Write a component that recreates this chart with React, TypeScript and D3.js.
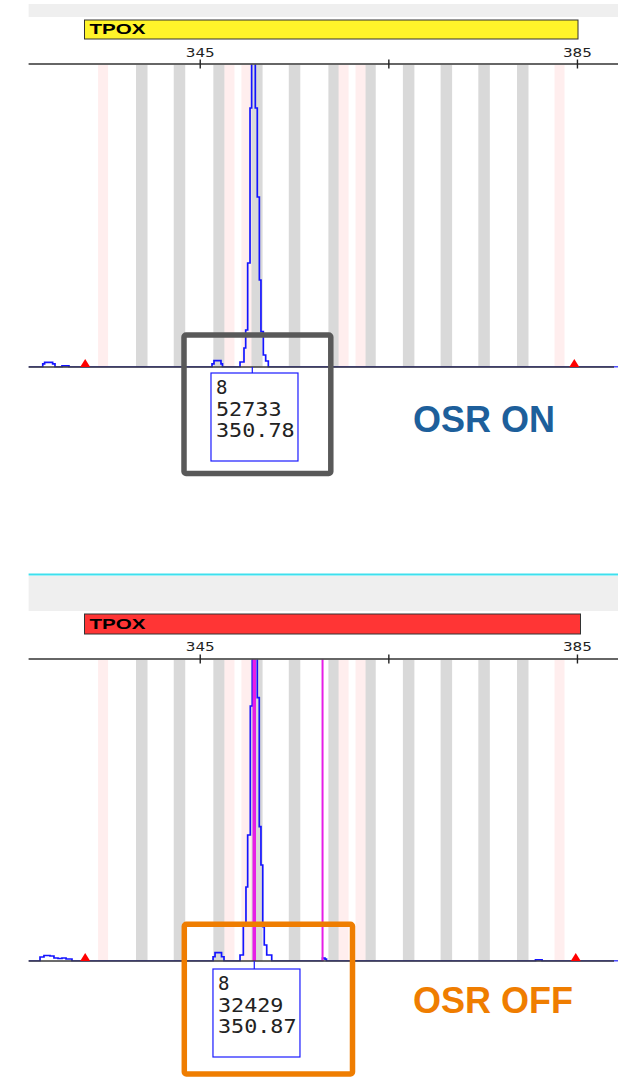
import React from 'react';
import * as d3 from 'd3';

// ---------- data ----------
const locusName = 'TPOX';
const axisTicks = [345, 365, 385];
const tickLabels = ['345', '', '385'];
const alleleBins = [338.8, 342.8, 347.0, 351.0, 355.0, 359.2, 363.0, 367.1, 371.1, 375.1, 379.2];
const virtualBins = [334.7, 348.1, 349.9, 360.2, 362.0, 383.1];

// OSR ON trace samples (bp, RFU)
const onPos = [326.8, 328.1, 328.3, 328.5, 329.35, 329.6, 330.34, 330.98, 331.08,
  346.25, 346.46, 347.2, 347.36,
  348.9, 349.22, 349.64, 349.82, 350.03, 350.28, 350.45, 350.63, 350.84, 351.05, 351.27, 351.44, 351.69, 351.94, 352.22, 389.3];
const onRfu = [0, 0, 100, 155, 100, 0, 40, 40, 0,
  100, 208, 100, 0,
  0, 165, 627, 1221, 3432, 8548, 20000, 52733, 8548, 5611, 2871, 1165, 396, 198, 0, 0];
const onSizeStd = [332.8, 384.67];
const onCall = 350.52;
const onLabel = ['8', '52733', '350.78'];

// OSR OFF trace samples (bp, RFU)
const offPos = [326.8, 327.8, 328.01, 328.43, 329.07, 329.49, 329.92, 330.34, 330.77, 331.19, 331.4,
  346.2, 346.36, 346.57, 346.99, 347.26, 347.52,
  348.9, 349.22, 349.57, 349.85, 350.03, 350.31, 350.52, 350.76, 351.05, 351.26, 351.44, 351.63, 351.79, 352.05, 352.58,
  357.9, 357.97, 358.23, 358.39,
  380.55, 381.19, 381.25, 389.3];
const offRfu = [0, 0, 132, 182, 166, 99, 83, 99, 66, 66, 0,
  0, 140, 275, 275, 140, 0,
  0, 199, 1192, 2450, 4172, 8444, 20000, 32429, 8719, 4447, 3179, 1136, 530, 199, 0,
  0, 100, 60, 0,
  40, 40, 0, 0];
const offSizeStd = [332.8, 384.82];
const offCall = 350.73;
const offMarkers = [350.73, 357.97];
const offLabel = ['8', '32429', '350.87'];

const legendOn = 'OSR ON';
const legendOff = 'OSR OFF';

// ---------- layout ----------
const W = 618, H = 1078;
const X0 = 28.6, X1 = 618;
const x = d3.scaleLinear().domain([326.8, 389.3]).range([X0, X1]);

type PanelProps = {
  id: string;
  axisY: number; baseY: number;
  headerTop: number; headerBottom: number; cyanY?: number;
  boxTop: number; boxBottom: number; boxRight: number; boxFill: string;
  tpoxBase: number; tickLabelBase: number;
  pos: number[]; rfu: number[]; sizeStd: number[]; call: number; label: string[];
  markers: number[];
  labelOffset: number;
};

function Panel(p: PanelProps) {
  const y = d3.scaleLinear().domain([0, 10000]).range([p.baseY, p.axisY]);
  const idx = d3.range(p.pos.length);
  const line = d3.line<number>().x(i => x(p.pos[i])).y(i => y(p.rfu[i])).curve(d3.curveStepAfter);
  const binW = x(1.22) - x(0);
  const vbinW = x(1.06) - x(0);
  const cx = x(p.call);
  const bx = cx - 41.3, by = p.baseY + p.labelOffset;
  const boxLeft = 84.5;
  return (
    <g>
      <defs>
        <clipPath id={'clip-' + p.id}>
          <rect x={X0} y={p.axisY + 0.5} width={X1 - X0} height={p.baseY - p.axisY} />
        </clipPath>
      </defs>
      {p.cyanY !== undefined && <rect x={X0} y={p.cyanY - 1} width={X1 - X0} height={2} fill="#3ee0ee" />}
      <rect x={X0} y={p.headerTop} width={X1 - X0} height={p.headerBottom - p.headerTop} fill="#efefef" />
      <rect x={boxLeft} y={p.boxTop} width={p.boxRight - boxLeft} height={p.boxBottom - p.boxTop} fill={p.boxFill} stroke="#333" strokeWidth={1} />
      <text x={89.5} y={p.tpoxBase} fontFamily="Liberation Sans, Arial, sans-serif" fontWeight="bold" fontSize={14} textLength={56} lengthAdjust="spacingAndGlyphs" fill="#000">{locusName}</text>
      {axisTicks.map((t, i) => tickLabels[i] ? (
        <text key={'tl' + i} x={x(t)} y={p.tickLabelBase} textAnchor="middle" fontFamily="DejaVu Sans, sans-serif" fontSize={13} textLength={29} lengthAdjust="spacingAndGlyphs" fill="#222">{tickLabels[i]}</text>
      ) : null)}
      {/* bins */}
      {alleleBins.map((b, i) => (
        <rect key={'ab' + i} x={x(b) - binW / 2} y={p.axisY + 1} width={binW} height={p.baseY - p.axisY - 1} fill="#d9d9d9" />
      ))}
      {virtualBins.map((b, i) => (
        <rect key={'vb' + i} x={x(b) - vbinW / 2} y={p.axisY + 1} width={vbinW} height={p.baseY - p.axisY - 1} fill="#ffeeee" />
      ))}
      {/* trace */}
      <g clipPath={`url(#clip-${p.id})`}>
        <path d={line(idx) || ''} fill="none" stroke="#1414ff" strokeWidth={1.7} />
        {p.markers.map((m, i) => (
          <line key={'mk' + i} x1={x(m)} x2={x(m)} y1={p.axisY} y2={p.baseY} stroke="#e61ee6" strokeWidth={i === 0 ? 3.5 : 2} />
        ))}
      </g>
      {/* top axis */}
      <line x1={X0} x2={X1} y1={p.axisY} y2={p.axisY} stroke="#333" strokeWidth={1.4} />
      {axisTicks.map((t, i) => (
        <line key={'tk' + i} x1={x(t)} x2={x(t)} y1={p.axisY - 4.5} y2={p.axisY + 4.5} stroke="#222" strokeWidth={1.4} />
      ))}
      {/* baseline */}
      <line x1={X0} x2={614} y1={p.baseY} y2={p.baseY} stroke="#3a3a3a" strokeWidth={1.5} />
      {/* size standard markers */}
      {p.sizeStd.map((s, i) => (
        <path key={'ss' + i} d={`M${x(s) - 5},${p.baseY} L${x(s)},${p.baseY - 8} L${x(s) + 5},${p.baseY} Z`} fill="#ff0000" />
      ))}
      {/* allele label */}
      <line x1={cx} x2={cx} y1={p.baseY} y2={by} stroke="#1414ff" strokeWidth={1.2} />
      <rect x={bx} y={by} width={87} height={88} fill="#fff" stroke="#1a1aff" strokeWidth={1.2} />
      {p.label.map((s, i) => (
        <text key={'lb' + i} x={bx + 5} y={by + [20.8, 42.8, 63.8][i]} fontFamily="DejaVu Sans Mono, monospace" fontSize={19}
          textLength={s.length > 1 ? s.length * 13.1 : undefined} lengthAdjust="spacingAndGlyphs" fill="#222">{s}</text>
      ))}
    </g>
  );
}

export default function App() {
  return (
    <svg width={W} height={H} viewBox={`0 0 ${W} ${H}`} style={{ position: 'absolute', left: 0, top: 0, background: '#fff' }}>
      <rect x={0} y={0} width={W} height={H} fill="#fff" />
      <Panel id="on" axisY={64} baseY={367} headerTop={4} headerBottom={17} boxTop={20} boxBottom={39} boxRight={578} boxFill="#fff42a"
        tpoxBase={33.5} tickLabelBase={56.7} pos={onPos} rfu={onRfu} sizeStd={onSizeStd} call={onCall} label={onLabel} markers={[]} labelOffset={6} />
      <Panel id="off" axisY={659} baseY={961} headerTop={576} headerBottom={611} cyanY={574.5} boxTop={614} boxBottom={634} boxRight={580.5} boxFill="#ff3535"
        tpoxBase={628.5} tickLabelBase={650.7} pos={offPos} rfu={offRfu} sizeStd={offSizeStd} call={offCall} label={offLabel} markers={offMarkers} labelOffset={8} />
      {/* highlight frames */}
      <rect x={184} y={335} width={146.8} height={138.5} rx={2} fill="none" stroke="#595959" strokeWidth={5.5} />
      <rect x={184.3} y={924.3} width={168.2} height={149.7} rx={2} fill="none" stroke="#ef7d00" strokeWidth={5.5} />
      <text x={413} y={432} fontFamily="Liberation Sans, Arial, sans-serif" fontWeight="bold" fontSize={36} fill="#1d5f9b">{legendOn}</text>
      <text x={413} y={1013} fontFamily="Liberation Sans, Arial, sans-serif" fontWeight="bold" fontSize={36} fill="#ef7d00">{legendOff}</text>
    </svg>
  );
}
